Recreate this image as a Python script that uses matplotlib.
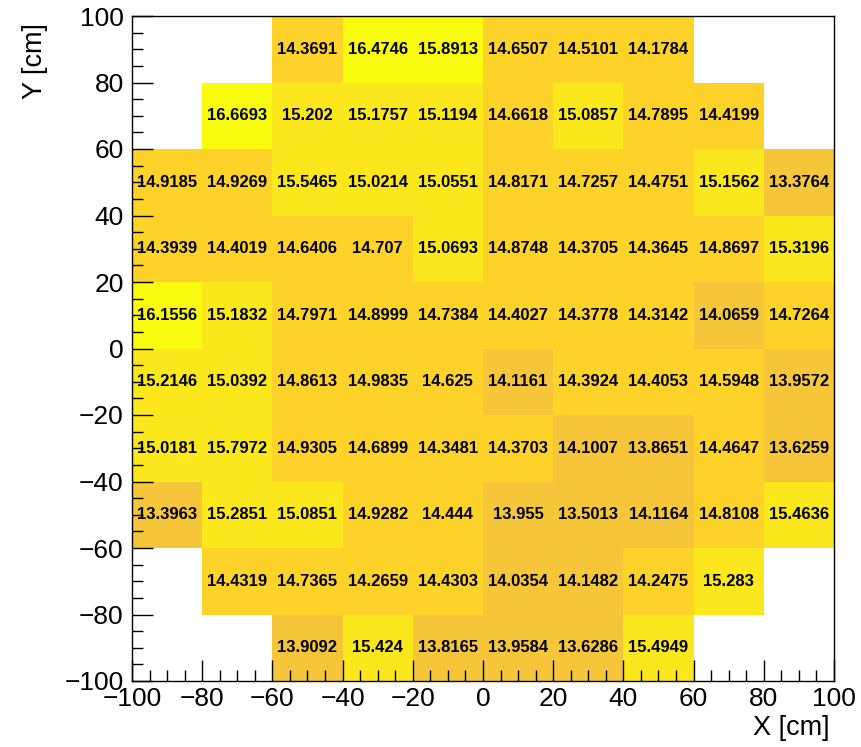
import numpy as np
import matplotlib
matplotlib.use("Agg")
import matplotlib.pyplot as plt
from matplotlib.colors import LinearSegmentedColormap, ListedColormap, BoundaryNorm
from matplotlib.ticker import MultipleLocator

plt.rcParams['font.family'] = ['Liberation Sans', 'DejaVu Sans']

x_edges = [-100, -80, -60, -40, -20, 0, 20, 40, 60, 80, 100]
y_edges = [-100, -80, -60, -40, -20, 0, 20, 40, 60, 80, 100]
nan = np.nan
# rows from bottom (y=-100..-80) to top (y=80..100)
row_m100 = [nan, nan, 13.9092, 15.424, 13.8165, 13.9584, 13.6286, 15.4949, nan, nan]
row_m80 = [nan, 14.4319, 14.7365, 14.2659, 14.4303, 14.0354, 14.1482, 14.2475, 15.283, nan]
row_m60 = [13.3963, 15.2851, 15.0851, 14.9282, 14.444, 13.955, 13.5013, 14.1164, 14.8108, 15.4636]
row_m40 = [15.0181, 15.7972, 14.9305, 14.6899, 14.3481, 14.3703, 14.1007, 13.8651, 14.4647, 13.6259]
row_m20 = [15.2146, 15.0392, 14.8613, 14.9835, 14.625, 14.1161, 14.3924, 14.4053, 14.5948, 13.9572]
row_0 = [16.1556, 15.1832, 14.7971, 14.8999, 14.7384, 14.4027, 14.3778, 14.3142, 14.0659, 14.7264]
row_20 = [14.3939, 14.4019, 14.6406, 14.707, 15.0693, 14.8748, 14.3705, 14.3645, 14.8697, 15.3196]
row_40 = [14.9185, 14.9269, 15.5465, 15.0214, 15.0551, 14.8171, 14.7257, 14.4751, 15.1562, 13.3764]
row_60 = [nan, 16.6693, 15.202, 15.1757, 15.1194, 14.6618, 15.0857, 14.7895, 14.4199, nan]
row_80 = [nan, nan, 14.3691, 16.4746, 15.8913, 14.6507, 14.5101, 14.1784, nan, nan]

Z = np.array([row_m100, row_m80, row_m60, row_m40, row_m20, row_0, row_20, row_40, row_60, row_80])

# ROOT kBird palette
stops = [0.0, 0.125, 0.25, 0.375, 0.5, 0.625, 0.75, 0.875, 1.0]
red = [0.2082, 0.0592, 0.0780, 0.0232, 0.1802, 0.5301, 0.8186, 0.9956, 0.9764]
green = [0.1664, 0.3599, 0.5041, 0.6419, 0.7178, 0.7492, 0.7328, 0.7862, 0.9832]
blue = [0.5293, 0.8684, 0.8385, 0.7914, 0.6425, 0.4662, 0.3499, 0.1968, 0.0539]
bird = LinearSegmentedColormap.from_list(
    'bird', [(s, (r, g, b)) for s, r, g, b in zip(stops, red, green, blue)], N=255)
ncont = 20
cols = [bird(min(int((k + 0.99) * 255 / ncont), 254)) for k in range(ncont)]
cmap = ListedColormap(cols)
cmap.set_bad((1, 1, 1, 0))
zmax = np.nanmax(Z)
bounds = np.linspace(0, zmax, ncont + 1)
bounds[-1] = zmax * 1.0001
norm = BoundaryNorm(bounds, ncont)

fig = plt.figure(figsize=(8.62, 7.47), dpi=100)
ax = fig.add_axes([132 / 862, 1 - 681 / 747, 702 / 862, 665 / 747])
ax.pcolormesh(x_edges, y_edges, np.ma.masked_invalid(Z), cmap=cmap, norm=norm)

xc = 0.5 * (np.array(x_edges[:-1]) + np.array(x_edges[1:]))
yc = 0.5 * (np.array(y_edges[:-1]) + np.array(y_edges[1:]))
for i in range(Z.shape[0]):
    for j in range(Z.shape[1]):
        v = Z[i, j]
        if np.isfinite(v):
            ax.text(xc[j], yc[i], '{:g}'.format(v), ha='center', va='center',
                    fontsize=12, fontweight='bold', color='black')

ax.set_xlim(-100, 100)
ax.set_ylim(-100, 100)
ax.xaxis.set_major_locator(MultipleLocator(20))
ax.xaxis.set_minor_locator(MultipleLocator(5))
ax.yaxis.set_major_locator(MultipleLocator(20))
ax.yaxis.set_minor_locator(MultipleLocator(5))
ax.tick_params(which='both', direction='in', top=False, right=False, width=1.0, colors='black')
ax.tick_params(which='major', length=15, labelsize=19)
ax.tick_params(axis='x', which='major', pad=4)
ax.tick_params(axis='y', which='major', pad=6)
ax.tick_params(which='minor', length=8)
for sp in ax.spines.values():
    sp.set_linewidth(1.0)

ax.set_xlabel('X [cm]', fontsize=19.5, loc='right', labelpad=3)
ax.xaxis.label.set_position((0.993, 0))
ax.set_ylabel('Y [cm]', fontsize=19.5, loc='top', labelpad=12)
ax.yaxis.label.set_position((0, 0.99))

fig.savefig('out.png', dpi=100)
